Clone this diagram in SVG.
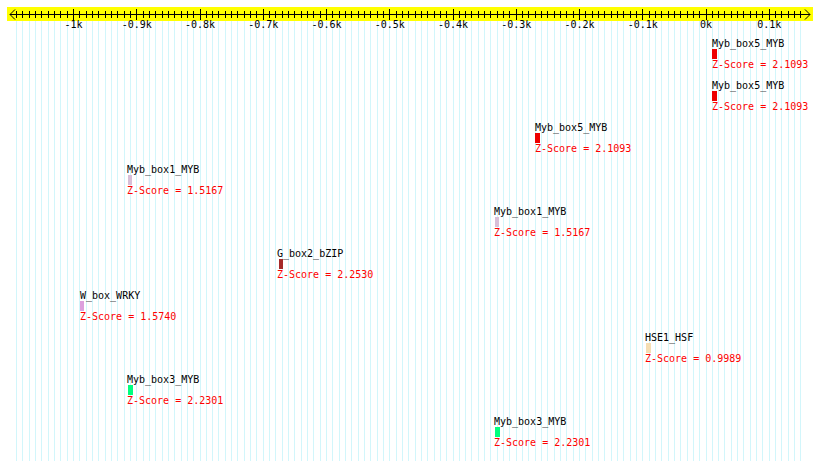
<svg xmlns="http://www.w3.org/2000/svg" width="820" height="461" viewBox="0 0 820 461">
<style>
text{font-family:"DejaVu Sans Mono","Liberation Mono",monospace;font-size:10px}
.lab{fill:#000}
.z{fill:#ff0000}
.ax{fill:#000;text-anchor:middle}
.grid line{stroke:#d2f6fb;stroke-width:1}
.ticks line{stroke:#000;stroke-width:1}
.grid,.ticks,rect{shape-rendering:crispEdges}
</style>
<rect width="820" height="461" fill="#fff"/>
<g class="grid" id="grid">
<line x1="16.5" y1="21" x2="16.5" y2="461"/><line x1="22.8" y1="21" x2="22.8" y2="461"/><line x1="29.1" y1="21" x2="29.1" y2="461"/><line x1="35.5" y1="21" x2="35.5" y2="461"/><line x1="41.8" y1="21" x2="41.8" y2="461"/><line x1="48.1" y1="21" x2="48.1" y2="461"/><line x1="54.4" y1="21" x2="54.4" y2="461"/><line x1="60.8" y1="21" x2="60.8" y2="461"/><line x1="67.1" y1="21" x2="67.1" y2="461"/><line x1="73.5" y1="21" x2="73.5" y2="461"/><line x1="79.8" y1="21" x2="79.8" y2="461"/><line x1="86.1" y1="21" x2="86.1" y2="461"/><line x1="92.4" y1="21" x2="92.4" y2="461"/><line x1="98.8" y1="21" x2="98.8" y2="461"/><line x1="105.1" y1="21" x2="105.1" y2="461"/><line x1="111.4" y1="21" x2="111.4" y2="461"/><line x1="117.7" y1="21" x2="117.7" y2="461"/><line x1="124.1" y1="21" x2="124.1" y2="461"/><line x1="130.4" y1="21" x2="130.4" y2="461"/><line x1="136.7" y1="21" x2="136.7" y2="461"/><line x1="143" y1="21" x2="143" y2="461"/><line x1="149.4" y1="21" x2="149.4" y2="461"/><line x1="155.7" y1="21" x2="155.7" y2="461"/><line x1="162" y1="21" x2="162" y2="461"/><line x1="168.3" y1="21" x2="168.3" y2="461"/><line x1="174.7" y1="21" x2="174.7" y2="461"/><line x1="181" y1="21" x2="181" y2="461"/><line x1="187.3" y1="21" x2="187.3" y2="461"/><line x1="193.6" y1="21" x2="193.6" y2="461"/><line x1="200" y1="21" x2="200" y2="461"/><line x1="206.3" y1="21" x2="206.3" y2="461"/><line x1="212.6" y1="21" x2="212.6" y2="461"/><line x1="218.9" y1="21" x2="218.9" y2="461"/><line x1="225.3" y1="21" x2="225.3" y2="461"/><line x1="231.6" y1="21" x2="231.6" y2="461"/><line x1="237.9" y1="21" x2="237.9" y2="461"/><line x1="244.2" y1="21" x2="244.2" y2="461"/><line x1="250.6" y1="21" x2="250.6" y2="461"/><line x1="256.9" y1="21" x2="256.9" y2="461"/><line x1="263.2" y1="21" x2="263.2" y2="461"/><line x1="269.5" y1="21" x2="269.5" y2="461"/><line x1="275.9" y1="21" x2="275.9" y2="461"/><line x1="282.2" y1="21" x2="282.2" y2="461"/><line x1="288.5" y1="21" x2="288.5" y2="461"/><line x1="294.8" y1="21" x2="294.8" y2="461"/><line x1="301.2" y1="21" x2="301.2" y2="461"/><line x1="307.5" y1="21" x2="307.5" y2="461"/><line x1="313.8" y1="21" x2="313.8" y2="461"/><line x1="320.1" y1="21" x2="320.1" y2="461"/><line x1="326.5" y1="21" x2="326.5" y2="461"/><line x1="332.8" y1="21" x2="332.8" y2="461"/><line x1="339.1" y1="21" x2="339.1" y2="461"/><line x1="345.4" y1="21" x2="345.4" y2="461"/><line x1="351.8" y1="21" x2="351.8" y2="461"/><line x1="358.1" y1="21" x2="358.1" y2="461"/><line x1="364.4" y1="21" x2="364.4" y2="461"/><line x1="370.7" y1="21" x2="370.7" y2="461"/><line x1="377.1" y1="21" x2="377.1" y2="461"/><line x1="383.4" y1="21" x2="383.4" y2="461"/><line x1="389.7" y1="21" x2="389.7" y2="461"/><line x1="396" y1="21" x2="396" y2="461"/><line x1="402.4" y1="21" x2="402.4" y2="461"/><line x1="408.7" y1="21" x2="408.7" y2="461"/><line x1="415" y1="21" x2="415" y2="461"/><line x1="421.3" y1="21" x2="421.3" y2="461"/><line x1="427.7" y1="21" x2="427.7" y2="461"/><line x1="434" y1="21" x2="434" y2="461"/><line x1="440.3" y1="21" x2="440.3" y2="461"/><line x1="446.6" y1="21" x2="446.6" y2="461"/><line x1="453" y1="21" x2="453" y2="461"/><line x1="459.3" y1="21" x2="459.3" y2="461"/><line x1="465.6" y1="21" x2="465.6" y2="461"/><line x1="471.9" y1="21" x2="471.9" y2="461"/><line x1="478.3" y1="21" x2="478.3" y2="461"/><line x1="484.6" y1="21" x2="484.6" y2="461"/><line x1="490.9" y1="21" x2="490.9" y2="461"/><line x1="497.2" y1="21" x2="497.2" y2="461"/><line x1="503.6" y1="21" x2="503.6" y2="461"/><line x1="509.9" y1="21" x2="509.9" y2="461"/><line x1="516.2" y1="21" x2="516.2" y2="461"/><line x1="522.5" y1="21" x2="522.5" y2="461"/><line x1="528.9" y1="21" x2="528.9" y2="461"/><line x1="535.2" y1="21" x2="535.2" y2="461"/><line x1="541.5" y1="21" x2="541.5" y2="461"/><line x1="547.8" y1="21" x2="547.8" y2="461"/><line x1="554.2" y1="21" x2="554.2" y2="461"/><line x1="560.5" y1="21" x2="560.5" y2="461"/><line x1="566.8" y1="21" x2="566.8" y2="461"/><line x1="573.1" y1="21" x2="573.1" y2="461"/><line x1="579.5" y1="21" x2="579.5" y2="461"/><line x1="585.8" y1="21" x2="585.8" y2="461"/><line x1="592.1" y1="21" x2="592.1" y2="461"/><line x1="598.4" y1="21" x2="598.4" y2="461"/><line x1="604.8" y1="21" x2="604.8" y2="461"/><line x1="611.1" y1="21" x2="611.1" y2="461"/><line x1="617.4" y1="21" x2="617.4" y2="461"/><line x1="623.7" y1="21" x2="623.7" y2="461"/><line x1="630.1" y1="21" x2="630.1" y2="461"/><line x1="636.4" y1="21" x2="636.4" y2="461"/><line x1="642.7" y1="21" x2="642.7" y2="461"/><line x1="649" y1="21" x2="649" y2="461"/><line x1="655.4" y1="21" x2="655.4" y2="461"/><line x1="661.7" y1="21" x2="661.7" y2="461"/><line x1="668" y1="21" x2="668" y2="461"/><line x1="674.3" y1="21" x2="674.3" y2="461"/><line x1="680.7" y1="21" x2="680.7" y2="461"/><line x1="687" y1="21" x2="687" y2="461"/><line x1="693.3" y1="21" x2="693.3" y2="461"/><line x1="699.6" y1="21" x2="699.6" y2="461"/><line x1="706" y1="21" x2="706" y2="461"/><line x1="712.3" y1="21" x2="712.3" y2="461"/><line x1="718.6" y1="21" x2="718.6" y2="461"/><line x1="724.9" y1="21" x2="724.9" y2="461"/><line x1="731.3" y1="21" x2="731.3" y2="461"/><line x1="737.6" y1="21" x2="737.6" y2="461"/><line x1="743.9" y1="21" x2="743.9" y2="461"/><line x1="750.2" y1="21" x2="750.2" y2="461"/><line x1="756.6" y1="21" x2="756.6" y2="461"/><line x1="762.9" y1="21" x2="762.9" y2="461"/><line x1="769.2" y1="21" x2="769.2" y2="461"/><line x1="775.5" y1="21" x2="775.5" y2="461"/><line x1="781.9" y1="21" x2="781.9" y2="461"/><line x1="788.2" y1="21" x2="788.2" y2="461"/><line x1="794.5" y1="21" x2="794.5" y2="461"/><line x1="800.8" y1="21" x2="800.8" y2="461"/>
</g>
<g id="axis">
<rect x="7" y="7" width="806" height="14" fill="#ffff00"/>
<line x1="10" y1="14.5" x2="810" y2="14.5" stroke="#000" shape-rendering="crispEdges"/>
<polyline points="15,9.5 10,14.5 15,19.5" fill="none" stroke="#000"/>
<polyline points="805,9.5 810,14.5 805,19.5" fill="none" stroke="#000"/>
<g class="ticks">
<line x1="16.5" y1="11" x2="16.5" y2="18"/><line x1="22.8" y1="11" x2="22.8" y2="18"/><line x1="29.1" y1="11" x2="29.1" y2="18"/><line x1="35.5" y1="11" x2="35.5" y2="18"/><line x1="41.8" y1="11" x2="41.8" y2="18"/><line x1="48.1" y1="11" x2="48.1" y2="18"/><line x1="54.4" y1="11" x2="54.4" y2="18"/><line x1="60.8" y1="11" x2="60.8" y2="18"/><line x1="67.1" y1="11" x2="67.1" y2="18"/><line x1="73.5" y1="9" x2="73.5" y2="20"/><line x1="79.8" y1="11" x2="79.8" y2="18"/><line x1="86.1" y1="11" x2="86.1" y2="18"/><line x1="92.4" y1="11" x2="92.4" y2="18"/><line x1="98.8" y1="11" x2="98.8" y2="18"/><line x1="105.1" y1="11" x2="105.1" y2="18"/><line x1="111.4" y1="11" x2="111.4" y2="18"/><line x1="117.7" y1="11" x2="117.7" y2="18"/><line x1="124.1" y1="11" x2="124.1" y2="18"/><line x1="130.4" y1="11" x2="130.4" y2="18"/><line x1="136.7" y1="9" x2="136.7" y2="20"/><line x1="143" y1="11" x2="143" y2="18"/><line x1="149.4" y1="11" x2="149.4" y2="18"/><line x1="155.7" y1="11" x2="155.7" y2="18"/><line x1="162" y1="11" x2="162" y2="18"/><line x1="168.3" y1="11" x2="168.3" y2="18"/><line x1="174.7" y1="11" x2="174.7" y2="18"/><line x1="181" y1="11" x2="181" y2="18"/><line x1="187.3" y1="11" x2="187.3" y2="18"/><line x1="193.6" y1="11" x2="193.6" y2="18"/><line x1="200" y1="9" x2="200" y2="20"/><line x1="206.3" y1="11" x2="206.3" y2="18"/><line x1="212.6" y1="11" x2="212.6" y2="18"/><line x1="218.9" y1="11" x2="218.9" y2="18"/><line x1="225.3" y1="11" x2="225.3" y2="18"/><line x1="231.6" y1="11" x2="231.6" y2="18"/><line x1="237.9" y1="11" x2="237.9" y2="18"/><line x1="244.2" y1="11" x2="244.2" y2="18"/><line x1="250.6" y1="11" x2="250.6" y2="18"/><line x1="256.9" y1="11" x2="256.9" y2="18"/><line x1="263.2" y1="9" x2="263.2" y2="20"/><line x1="269.5" y1="11" x2="269.5" y2="18"/><line x1="275.9" y1="11" x2="275.9" y2="18"/><line x1="282.2" y1="11" x2="282.2" y2="18"/><line x1="288.5" y1="11" x2="288.5" y2="18"/><line x1="294.8" y1="11" x2="294.8" y2="18"/><line x1="301.2" y1="11" x2="301.2" y2="18"/><line x1="307.5" y1="11" x2="307.5" y2="18"/><line x1="313.8" y1="11" x2="313.8" y2="18"/><line x1="320.1" y1="11" x2="320.1" y2="18"/><line x1="326.5" y1="9" x2="326.5" y2="20"/><line x1="332.8" y1="11" x2="332.8" y2="18"/><line x1="339.1" y1="11" x2="339.1" y2="18"/><line x1="345.4" y1="11" x2="345.4" y2="18"/><line x1="351.8" y1="11" x2="351.8" y2="18"/><line x1="358.1" y1="11" x2="358.1" y2="18"/><line x1="364.4" y1="11" x2="364.4" y2="18"/><line x1="370.7" y1="11" x2="370.7" y2="18"/><line x1="377.1" y1="11" x2="377.1" y2="18"/><line x1="383.4" y1="11" x2="383.4" y2="18"/><line x1="389.7" y1="9" x2="389.7" y2="20"/><line x1="396" y1="11" x2="396" y2="18"/><line x1="402.4" y1="11" x2="402.4" y2="18"/><line x1="408.7" y1="11" x2="408.7" y2="18"/><line x1="415" y1="11" x2="415" y2="18"/><line x1="421.3" y1="11" x2="421.3" y2="18"/><line x1="427.7" y1="11" x2="427.7" y2="18"/><line x1="434" y1="11" x2="434" y2="18"/><line x1="440.3" y1="11" x2="440.3" y2="18"/><line x1="446.6" y1="11" x2="446.6" y2="18"/><line x1="453" y1="9" x2="453" y2="20"/><line x1="459.3" y1="11" x2="459.3" y2="18"/><line x1="465.6" y1="11" x2="465.6" y2="18"/><line x1="471.9" y1="11" x2="471.9" y2="18"/><line x1="478.3" y1="11" x2="478.3" y2="18"/><line x1="484.6" y1="11" x2="484.6" y2="18"/><line x1="490.9" y1="11" x2="490.9" y2="18"/><line x1="497.2" y1="11" x2="497.2" y2="18"/><line x1="503.6" y1="11" x2="503.6" y2="18"/><line x1="509.9" y1="11" x2="509.9" y2="18"/><line x1="516.2" y1="9" x2="516.2" y2="20"/><line x1="522.5" y1="11" x2="522.5" y2="18"/><line x1="528.9" y1="11" x2="528.9" y2="18"/><line x1="535.2" y1="11" x2="535.2" y2="18"/><line x1="541.5" y1="11" x2="541.5" y2="18"/><line x1="547.8" y1="11" x2="547.8" y2="18"/><line x1="554.2" y1="11" x2="554.2" y2="18"/><line x1="560.5" y1="11" x2="560.5" y2="18"/><line x1="566.8" y1="11" x2="566.8" y2="18"/><line x1="573.1" y1="11" x2="573.1" y2="18"/><line x1="579.5" y1="9" x2="579.5" y2="20"/><line x1="585.8" y1="11" x2="585.8" y2="18"/><line x1="592.1" y1="11" x2="592.1" y2="18"/><line x1="598.4" y1="11" x2="598.4" y2="18"/><line x1="604.8" y1="11" x2="604.8" y2="18"/><line x1="611.1" y1="11" x2="611.1" y2="18"/><line x1="617.4" y1="11" x2="617.4" y2="18"/><line x1="623.7" y1="11" x2="623.7" y2="18"/><line x1="630.1" y1="11" x2="630.1" y2="18"/><line x1="636.4" y1="11" x2="636.4" y2="18"/><line x1="642.7" y1="9" x2="642.7" y2="20"/><line x1="649" y1="11" x2="649" y2="18"/><line x1="655.4" y1="11" x2="655.4" y2="18"/><line x1="661.7" y1="11" x2="661.7" y2="18"/><line x1="668" y1="11" x2="668" y2="18"/><line x1="674.3" y1="11" x2="674.3" y2="18"/><line x1="680.7" y1="11" x2="680.7" y2="18"/><line x1="687" y1="11" x2="687" y2="18"/><line x1="693.3" y1="11" x2="693.3" y2="18"/><line x1="699.6" y1="11" x2="699.6" y2="18"/><line x1="706" y1="9" x2="706" y2="20"/><line x1="712.3" y1="11" x2="712.3" y2="18"/><line x1="718.6" y1="11" x2="718.6" y2="18"/><line x1="724.9" y1="11" x2="724.9" y2="18"/><line x1="731.3" y1="11" x2="731.3" y2="18"/><line x1="737.6" y1="11" x2="737.6" y2="18"/><line x1="743.9" y1="11" x2="743.9" y2="18"/><line x1="750.2" y1="11" x2="750.2" y2="18"/><line x1="756.6" y1="11" x2="756.6" y2="18"/><line x1="762.9" y1="11" x2="762.9" y2="18"/><line x1="769.2" y1="9" x2="769.2" y2="20"/><line x1="775.5" y1="11" x2="775.5" y2="18"/><line x1="781.9" y1="11" x2="781.9" y2="18"/><line x1="788.2" y1="11" x2="788.2" y2="18"/><line x1="794.5" y1="11" x2="794.5" y2="18"/><line x1="800.8" y1="11" x2="800.8" y2="18"/>
</g>
<text class="ax" x="73.5" y="28">-1k</text>
<text class="ax" x="136.7" y="28">-0.9k</text>
<text class="ax" x="200" y="28">-0.8k</text>
<text class="ax" x="263.2" y="28">-0.7k</text>
<text class="ax" x="326.5" y="28">-0.6k</text>
<text class="ax" x="389.7" y="28">-0.5k</text>
<text class="ax" x="453" y="28">-0.4k</text>
<text class="ax" x="516.2" y="28">-0.3k</text>
<text class="ax" x="579.5" y="28">-0.2k</text>
<text class="ax" x="642.7" y="28">-0.1k</text>
<text class="ax" x="706" y="28">0k</text>
<text class="ax" x="769.2" y="28">0.1k</text>
</g>
<g id="m1"><text class="lab" x="712" y="47">Myb_box5_MYB</text><rect x="712" y="49" width="5" height="10" fill="#ee0000"/><text class="z" x="712" y="68">Z-Score = 2.1093</text></g>
<g id="m2"><text class="lab" x="712" y="89">Myb_box5_MYB</text><rect x="712" y="91" width="5" height="10" fill="#ee0000"/><text class="z" x="712" y="110">Z-Score = 2.1093</text></g>
<g id="m3"><text class="lab" x="535" y="131">Myb_box5_MYB</text><rect x="535" y="133" width="5" height="10" fill="#ee0000"/><text class="z" x="535" y="152">Z-Score = 2.1093</text></g>
<g id="m4"><text class="lab" x="127" y="173">Myb_box1_MYB</text><rect x="128" y="175" width="4" height="10" fill="#d8bfd8"/><text class="z" x="127" y="194">Z-Score = 1.5167</text></g>
<g id="m5"><text class="lab" x="494" y="215">Myb_box1_MYB</text><rect x="495" y="217" width="4" height="10" fill="#d8bfd8"/><text class="z" x="494" y="236">Z-Score = 1.5167</text></g>
<g id="m6"><text class="lab" x="277" y="257">G_box2_bZIP</text><rect x="279" y="259" width="4" height="10" fill="#a52a2a"/><text class="z" x="277" y="278">Z-Score = 2.2530</text></g>
<g id="m7"><text class="lab" x="80" y="299">W_box_WRKY</text><rect x="80" y="301" width="4" height="10" fill="#dda0dd"/><text class="z" x="80" y="320">Z-Score = 1.5740</text></g>
<g id="m8"><text class="lab" x="645" y="341">HSE1_HSF</text><rect x="646" y="343" width="5" height="10" fill="#f5deb3"/><text class="z" x="645" y="362">Z-Score = 0.9989</text></g>
<g id="m9"><text class="lab" x="127" y="383">Myb_box3_MYB</text><rect x="128" y="385" width="5" height="10" fill="#00ff7f"/><text class="z" x="127" y="404">Z-Score = 2.2301</text></g>
<g id="m10"><text class="lab" x="494" y="425">Myb_box3_MYB</text><rect x="495" y="427" width="5" height="10" fill="#00ff7f"/><text class="z" x="494" y="446">Z-Score = 2.2301</text></g>
<g id="connectors"/>
</svg>
